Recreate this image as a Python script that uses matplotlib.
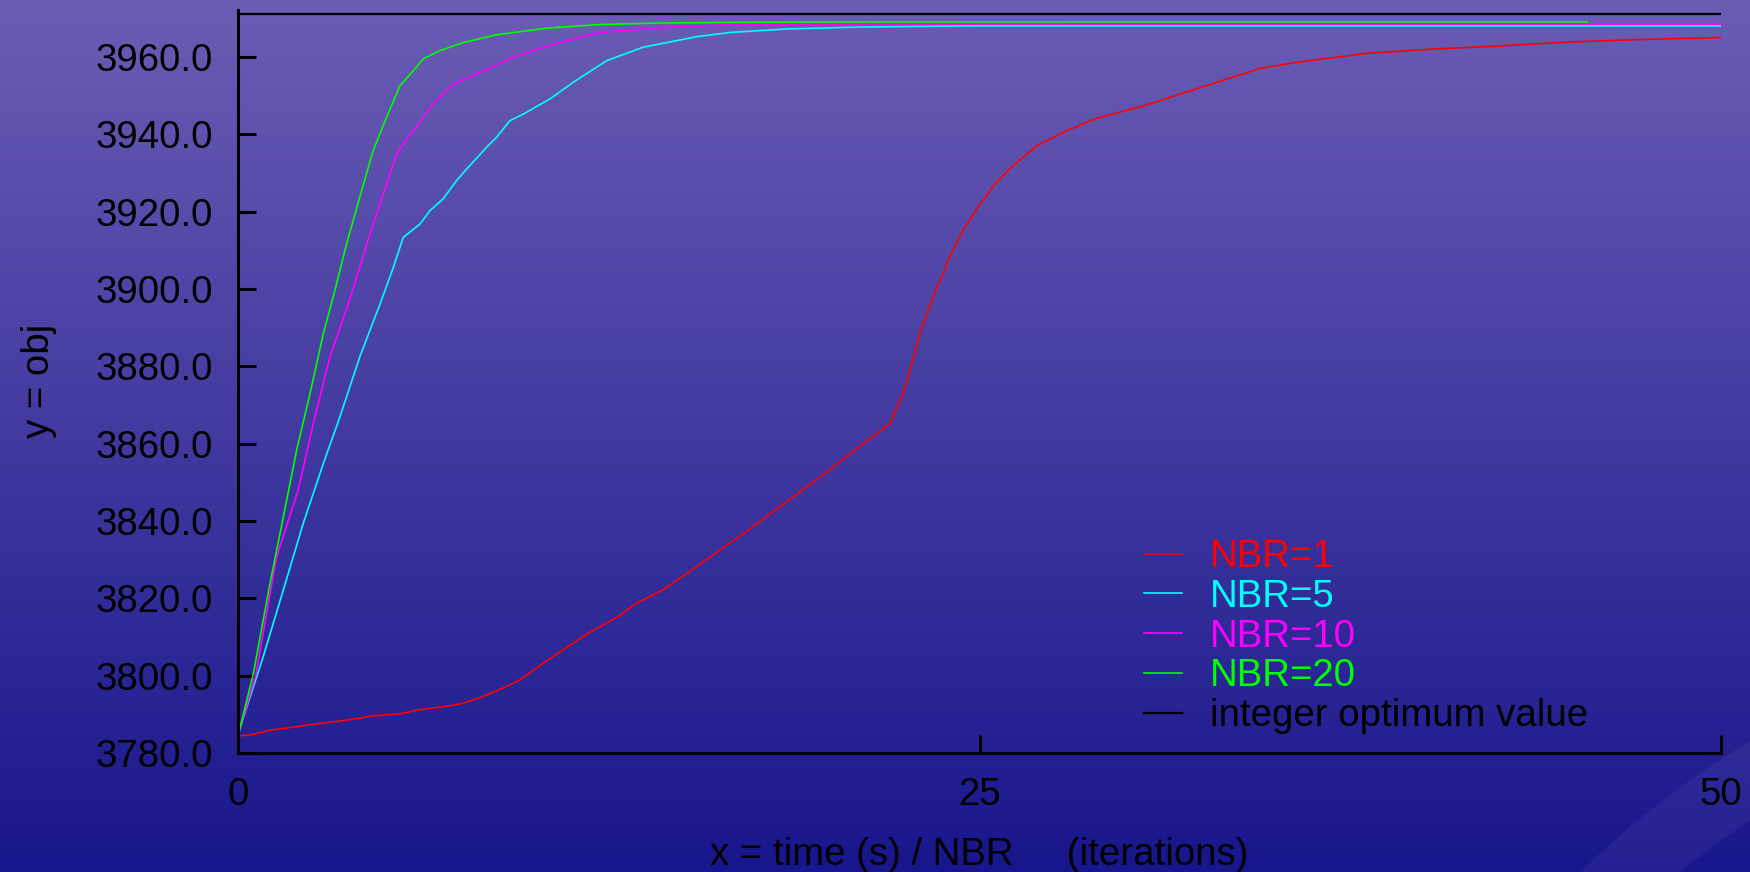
import numpy as np
import matplotlib
matplotlib.use("Agg")
import matplotlib.pyplot as plt
from matplotlib.patches import Wedge

plt.rcParams['font.family'] = ['Liberation Sans', 'DejaVu Sans']

# values
red_x = [0, 0.52, 1.08, 2.54, 3.66, 4.56, 5.45, 6.05, 6.96, 7.56, 8.16, 8.91, 9.51,
         10.27, 11.02, 11.77, 12.82, 13.42, 14.33, 15.23, 15.76, 17.0, 18.5, 20.0,
         20.8, 21.98, 22.49, 22.99, 23.44, 24.0, 24.45, 24.96, 25.52, 26.03, 26.93,
         27.94, 28.95, 30.52, 32.43, 34.46, 35.81, 38.05, 40.3, 42.55, 44.8, 47.0, 50.0]
red_y = [3784.4, 3784.8, 3785.9, 3787.4, 3788.5, 3789.6, 3790.1, 3791.1, 3792.0, 3792.8,
         3794.3, 3796.7, 3798.9, 3803.1, 3807.0, 3810.8, 3815.3, 3818.7, 3822.2, 3826.9,
         3829.9, 3836.5, 3845.0, 3853.5, 3858.4, 3865.2, 3874.3, 3888.5, 3898.0, 3908.3,
         3915.2, 3921.3, 3927.1, 3931.2, 3937.0, 3940.9, 3944.1, 3947.3, 3952.0, 3957.0,
         3958.7, 3960.9, 3962.0, 3962.8, 3963.8, 3964.4, 3965.0]

cyan_x = [0, 0.12, 0.85, 1.53, 2.20, 2.88, 3.44, 4.11, 4.79, 5.24, 5.57, 6.14, 6.47,
          6.92, 7.37, 7.71, 8.38, 8.72, 9.17, 9.62, 10.52, 11.30, 12.43, 13.67, 15.47,
          16.6, 18.5, 21.0, 25.0, 50.0]
cyan_y = [3784.4, 3787.7, 3804.9, 3822.2, 3839.4, 3854.9, 3867.0, 3882.5, 3896.1, 3905.6,
          3913.3, 3916.8, 3920.2, 3923.3, 3928.0, 3931.0, 3936.6, 3939.2, 3943.5, 3945.2,
          3949.1, 3953.4, 3959.0, 3962.5, 3965.2, 3966.3, 3967.2, 3967.7, 3968.0, 3968.0]

magenta_x = [0, 0.61, 1.30, 2.03, 2.54, 3.10, 3.72, 4.45, 4.90, 5.35, 5.69, 6.02, 6.47,
             7.26, 8.16, 9.28, 10.41, 12.09, 14.34, 16.6, 20.0, 30.0, 50.0]
magenta_y = [3784.4, 3800.6, 3830.7, 3848.0, 3865.2, 3882.5, 3896.1, 3914.2, 3924.6,
             3934.9, 3938.8, 3941.8, 3947.0, 3953.0, 3956.0, 3959.9, 3962.8, 3966.2,
             3967.6, 3968.3, 3968.45, 3968.45, 3968.45]

green_x = [0, 0.52, 1.08, 1.53, 1.98, 2.43, 2.88, 3.27, 3.66, 4.23, 4.56, 5.01, 5.46,
           5.91, 6.25, 6.81, 7.60, 8.72, 10.41, 12.09, 14.0, 16.6, 20.0, 30.0, 45.5]
green_y = [3784.4, 3800.6, 3823.9, 3841.1, 3858.4, 3873.0, 3888.5, 3899.7, 3911.6,
           3927.1, 3935.8, 3944.4, 3952.5, 3956.4, 3959.5, 3961.6, 3963.7, 3965.7,
           3967.4, 3968.3, 3968.7, 3968.9, 3969.0, 3969.05, 3969.05]

opt_x = [0, 50]
opt_y = [3971.1, 3971.1]

labels = ['NBR=1', 'NBR=5', 'NBR=10', 'NBR=20', 'integer optimum value']
colors = ['#ff0000', '#00ffff', '#ff00ff', '#00ff00', '#000000']

yticks = [3780, 3800, 3820, 3840, 3860, 3880, 3900, 3920, 3940, 3960]
xticks = [0, 25, 50]

W, H = 1750, 872
fs = 27.6
fig = plt.figure(figsize=(W / 100, H / 100), dpi=100)

# background gradient + faint arc
bg = fig.add_axes([0, 0, 1, 1], zorder=-10)
top = np.array([107, 93, 180]) / 255
bot = np.array([24, 22, 140]) / 255
t = np.linspace(0, 1, 256)[:, None]
grad = (top[None, :] * (1 - t) + bot[None, :] * t)[:, None, :]
bg.imshow(grad, aspect='auto', extent=[0, W, H, 0])
bg.add_patch(Wedge((2200, 1500), 882, 0, 360, width=67, facecolor='white',
                   alpha=0.05, edgecolor='none'))
bg.set_xlim(0, W)
bg.set_ylim(H, 0)
bg.axis('off')

ax = fig.add_axes([238 / W, 1 - 753 / H, (1721 - 238) / W, (753 - 10) / H])
ax.patch.set_alpha(0)

ys = [red_y, cyan_y, magenta_y, green_y]
xs = [red_x, cyan_x, magenta_x, green_x]
for x, y, c, lab in zip(xs, ys, colors[:4], labels[:4]):
    ax.plot(x, y, color=c, lw=1.2, label=lab)
ax.plot(opt_x, opt_y, color=colors[4], lw=1.6, label=labels[4])

ax.set_xlim(0, 50)
ax.set_ylim(3780, 3972.1)
ax.set_xticks(xticks)
ax.set_xticklabels([str(v) for v in xticks])
ax.set_yticks(yticks)
ax.set_yticklabels([f"{v:.1f}" for v in yticks])
ax.tick_params(direction='in', length=13, width=2.2, labelsize=fs, color='black')
ax.tick_params(axis='x', pad=17)
ax.tick_params(axis='y', pad=18)
for s in ['top', 'right']:
    ax.spines[s].set_visible(False)
for s in ['left', 'bottom']:
    ax.spines[s].set_linewidth(2.2)

fig.text(39 / W, 1 - 381 / H, 'y = obj', rotation=90, fontsize=fs,
         ha='center', va='center')
fig.text(979 / W, 1 - 855 / H, 'x = time (s) / NBR     (iterations)', fontsize=fs,
         ha='center', va='center')

leg = ax.legend(loc='upper left', bbox_to_anchor=(1144 / W, 1 - 539 / H),
                bbox_transform=fig.transFigure, frameon=False, fontsize=fs,
                handlelength=1.0, handletextpad=0.72, labelspacing=0.1,
                borderpad=0, borderaxespad=0)
for txt, c in zip(leg.get_texts(), colors):
    txt.set_color(c)

fig.savefig('out.png', dpi=100)
